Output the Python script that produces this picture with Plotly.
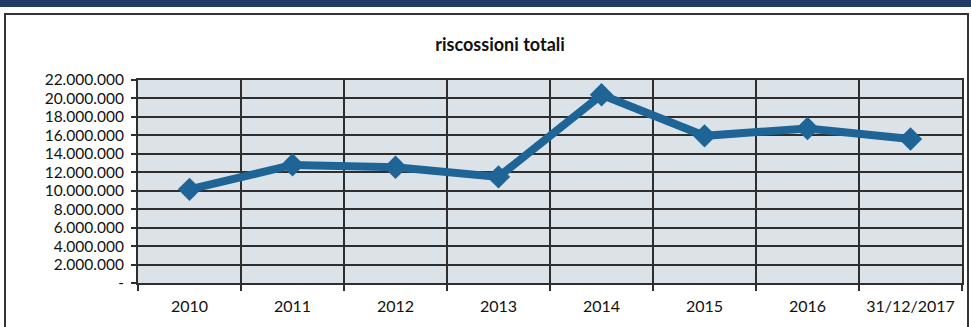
import plotly.graph_objects as go

categories = ["2010", "2011", "2012", "2013", "2014", "2015", "2016", "31/12/2017"]
riscossioni = [10150000, 12800000, 12550000, 11500000, 20400000, 15950000, 16750000, 15600000]
y_tickvals = [0, 2000000, 4000000, 6000000, 8000000, 10000000, 12000000,
              14000000, 16000000, 18000000, 20000000, 22000000]
y_ticktext = ["-", "2.000.000", "4.000.000", "6.000.000", "8.000.000", "10.000.000",
              "12.000.000", "14.000.000", "16.000.000", "18.000.000", "20.000.000", "22.000.000"]

FONT = "Lato"
GRID = "#2e2e2e"

fig = go.Figure()
fig.add_trace(go.Scatter(
    x=categories, y=riscossioni, mode="lines+markers",
    line=dict(color="#1f6496", width=8),
    marker=dict(symbol="diamond", size=18, color="#1f6496"),
    showlegend=False,
))

fig.update_layout(
    width=971, height=327,
    margin=dict(l=138, r=9, t=80, b=44, autoexpand=False),
    paper_bgcolor="white",
    plot_bgcolor="#dce3e8",
    font=dict(family=FONT, color="#111111", size=16),
    title=dict(text="<b>riscossioni totali</b>", x=0.515, xanchor="center",
               y=1 - 45 / 327, yanchor="middle",
               font=dict(family=FONT, size=18, color="#111111")),
    xaxis=dict(
        type="category", range=[-0.5, 7.5], automargin=False,
        tickson="boundaries", ticks="outside", ticklen=6, tickwidth=2, tickcolor=GRID,
        showgrid=True, gridcolor=GRID, gridwidth=2,
        showline=True, linecolor=GRID, linewidth=2, mirror=True,
        tickangle=0, tickfont=dict(size=16), ticklabelstandoff=8,
    ),
    yaxis=dict(
        range=[0, 22000000], tickvals=y_tickvals, ticktext=y_ticktext, automargin=False,
        ticks="outside", ticklen=5, tickwidth=2, tickcolor=GRID,
        showgrid=True, gridcolor=GRID, gridwidth=2,
        showline=True, linecolor=GRID, linewidth=2, mirror=True,
        zeroline=False, tickfont=dict(size=15.5), ticklabelstandoff=4,
    ),
    shapes=[
        # chart frame (scanned spreadsheet border)
        dict(type="rect", xref="paper", yref="paper",
             x0=(5 - 138) / 824, x1=(968 - 138) / 824,
             y0=(283 - 340) / 203, y1=(283 - 14) / 203,
             line=dict(color="#333333", width=2), fillcolor="rgba(0,0,0,0)", layer="below"),
        # dark band at the top of the scan
        dict(type="rect", xref="paper", yref="paper",
             x0=(0 - 138) / 824, x1=(971 - 138) / 824,
             y0=(283 - 7) / 203, y1=(283 - 0) / 203,
             line=dict(width=0), fillcolor="#1f3b66", layer="below"),
    ],
)

fig.write_html("out.html")
